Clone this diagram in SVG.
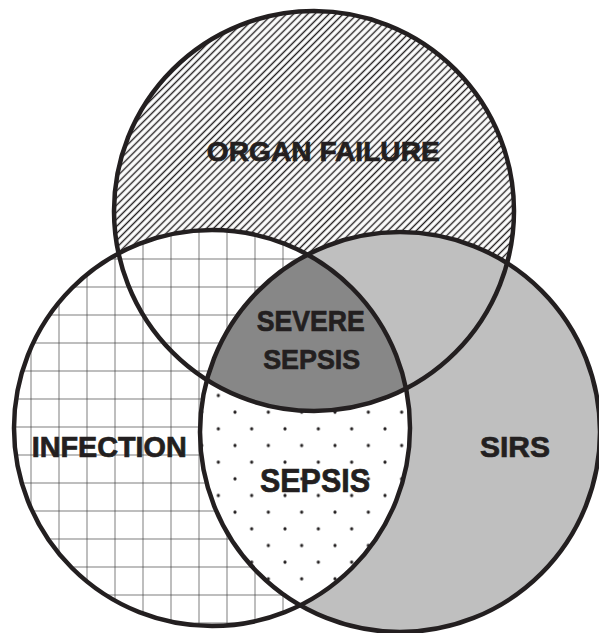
<svg xmlns="http://www.w3.org/2000/svg" width="599" height="633" viewBox="0 0 599 633">
  <style>
    .ring { fill: none; stroke: #231f20; stroke-width: 4.5; }
    .lbl { font-family: "Liberation Sans", Arial, sans-serif; font-weight: bold; fill: #231f20; stroke: #231f20; stroke-width: 0.7; text-anchor: middle; }
  </style>
  <defs>
    <pattern id="hatch" patternUnits="userSpaceOnUse" width="5" height="5" patternTransform="rotate(45)">
      <line x1="2.5" y1="-1" x2="2.5" y2="6" stroke="#231f20" stroke-width="1.4"/>
    </pattern>
    <pattern id="grid" patternUnits="userSpaceOnUse" x="2.5" y="6.5" width="28" height="28">
      <rect width="28" height="28" fill="#fff"/>
      <line x1="0" y1="0" x2="28" y2="0" stroke="#444" stroke-width="1.4"/>
      <line x1="0" y1="0" x2="0" y2="28" stroke="#444" stroke-width="1.4"/>
    </pattern>
    <pattern id="dots" patternUnits="userSpaceOnUse" x="1.67" y="12.17" width="33.333" height="33.333">
      <rect width="33.333" height="33.333" fill="#fff"/>
      <circle cx="0" cy="0" r="1.6" fill="#231f20"/>
      <circle cx="33.333" cy="0" r="1.6" fill="#231f20"/>
      <circle cx="0" cy="33.333" r="1.6" fill="#231f20"/>
      <circle cx="33.333" cy="33.333" r="1.6" fill="#231f20"/>
      <circle cx="16.667" cy="16.667" r="1.6" fill="#231f20"/>
    </pattern>
    <clipPath id="clipSirs"><circle cx="400" cy="432" r="200"/></clipPath>
    <clipPath id="clipOrgan"><circle cx="314" cy="211" r="200"/></clipPath>
  </defs>
  <rect width="599" height="633" fill="#fff"/>

  <g id="organ-failure">
    <circle cx="314" cy="211" r="200" fill="#fff"/>
    <circle cx="314" cy="211" r="200" fill="url(#hatch)"/>
  </g>
  <g id="infection">
    <circle cx="212" cy="428" r="198" fill="url(#grid)"/>
  </g>
  <g id="sirs">
    <circle cx="400" cy="432" r="200" fill="#bfbfbf"/>
  </g>
  <g id="sepsis">
    <circle cx="212" cy="428" r="198" fill="url(#dots)" clip-path="url(#clipSirs)"/>
  </g>
  <g id="severe-sepsis">
    <g clip-path="url(#clipOrgan)">
      <circle cx="212" cy="428" r="198" fill="#878787" clip-path="url(#clipSirs)"/>
    </g>
  </g>

  <g id="outlines">
    <circle class="ring" cx="314" cy="211" r="200"/>
    <circle class="ring" cx="212" cy="428" r="198"/>
    <circle class="ring" cx="400" cy="432" r="200"/>
  </g>

  <g id="labels">
    <text class="lbl" x="323.3" y="160.7" font-size="28" textLength="233" lengthAdjust="spacingAndGlyphs">ORGAN FAILURE</text>
    <text class="lbl" x="109.2" y="457.3" font-size="29" textLength="155" lengthAdjust="spacingAndGlyphs">INFECTION</text>
    <text class="lbl" x="310.8" y="330.7" font-size="29" textLength="108" lengthAdjust="spacingAndGlyphs">SEVERE</text>
    <text class="lbl" x="311.7" y="369.3" font-size="28" textLength="97" lengthAdjust="spacingAndGlyphs">SEPSIS</text>
    <text class="lbl" x="315" y="492.3" font-size="33" textLength="110" lengthAdjust="spacingAndGlyphs">SEPSIS</text>
    <text class="lbl" x="515" y="456.7" font-size="29" textLength="70" lengthAdjust="spacingAndGlyphs">SIRS</text>
  </g>
</svg>
